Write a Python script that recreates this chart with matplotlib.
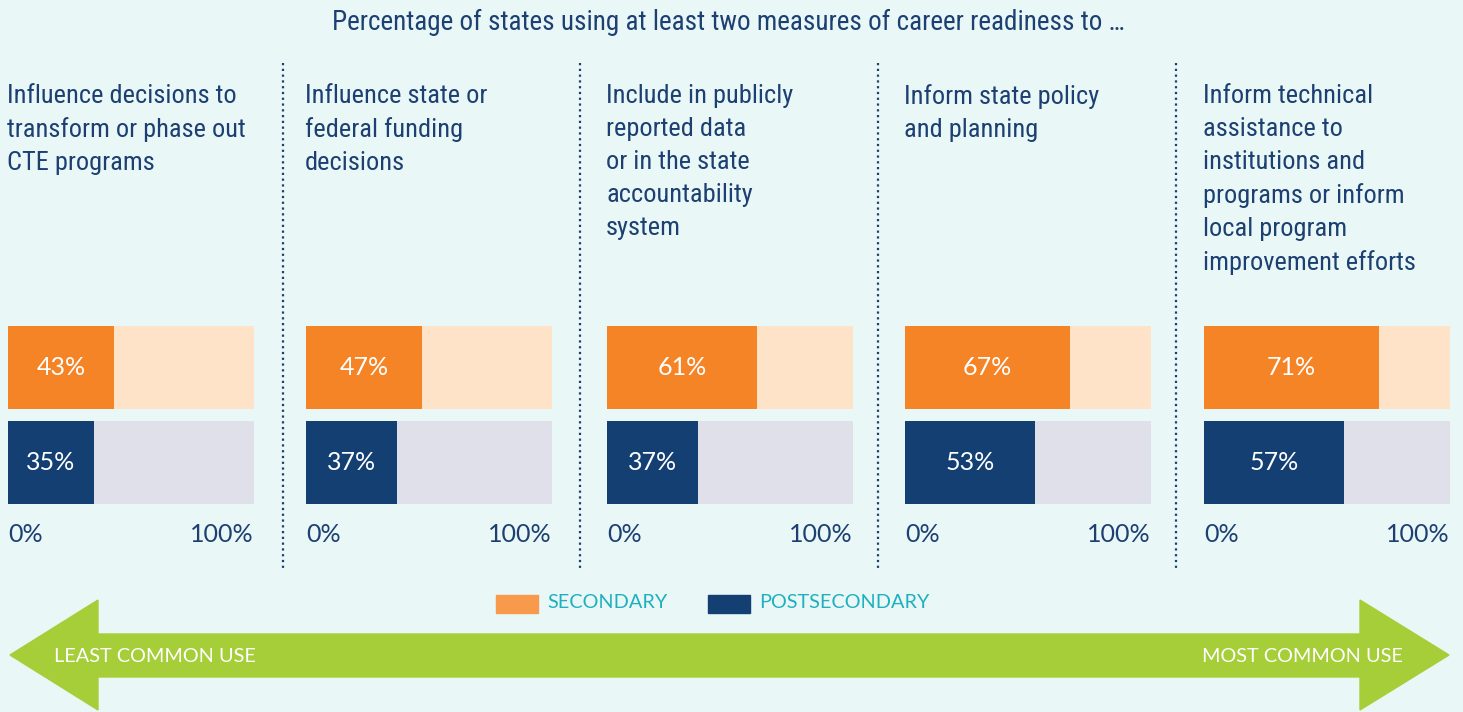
"""
Career readiness measures: share of states, secondary vs postsecondary.
"""
import matplotlib.pyplot as plt
from matplotlib import font_manager
from matplotlib.patches import Polygon, Rectangle
from matplotlib.lines import Line2D

# data
uses = [
    "Influence decisions to\ntransform or phase out\nCTE programs",
    "Influence state or\nfederal funding\ndecisions",
    "Include in publicly\nreported data\nor in the state\naccountability\nsystem",
    "Inform state policy\nand planning",
    "Inform technical\nassistance to\ninstitutions and\nprograms or inform\nlocal program\nimprovement efforts",
]
secondary = [43, 47, 61, 67, 71]
postsecondary = [35, 37, 37, 53, 57]
series_names = ["SECONDARY", "POSTSECONDARY"]
title = "Percentage of states using at least two measures of career readiness to \u2026"

# colours
BG = "#eaf7f7"
ORANGE = "#f58426"
ORANGE_LIGHT = "#ffe3c8"
NAVY = "#143f73"
GREY_LIGHT = "#e0e0ea"
TEXT_NAVY = "#1c4071"
TEAL = "#1fb0bf"
GREEN = "#a6ce39"

W, H = 1463, 712
fig = plt.figure(figsize=(W / 100, H / 100), dpi=100, facecolor=BG)

# pick a narrow face for the headings if one is around
fonts = font_manager.fontManager.ttflist
installed = {f.name for f in fonts}
head_font = dict(family="DejaVu Sans", fontsize=14)
for cand in ["Liberation Sans Narrow", "Roboto Condensed", "Open Sans Condensed",
             "Noto Sans Condensed"]:
    if cand in installed:
        head_font = dict(family=cand, fontsize=19)
        break
else:
    if any(f.name == "DejaVu Sans" and "Condensed" in f.fname for f in fonts):
        head_font = dict(family="DejaVu Sans", fontstretch="condensed", fontsize=18)
    elif any(f.name == "Roboto" and f.stretch == "condensed" for f in fonts):
        head_font = dict(family="Roboto", fontstretch="condensed", fontsize=19)


def fx(x):
    return x / W


def fy(y):
    return 1 - y / H


title_font = dict(head_font, fontsize=head_font["fontsize"] + 0.5)
fig.text(fx(728), fy(22), title, ha="center", va="center", color=TEXT_NAVY,
         **title_font)

panel_left = [8, 306, 607, 905, 1204]
panel_w = 246
bar_top, bar_bot = 326, 504

for i, label in enumerate(uses):
    x0 = panel_left[i]
    ax = fig.add_axes([fx(x0), fy(bar_bot), fx(panel_w), (bar_bot - bar_top) / H])
    ax.set_xlim(0, 100)
    ax.set_ylim(1.4415, -0.4415)
    ax.axis("off")
    h = 0.883
    ax.barh([0, 1], [100, 100], height=h, color=[ORANGE_LIGHT, GREY_LIGHT])
    vals = [secondary[i], postsecondary[i]]
    ax.barh([0, 1], vals, height=h, color=[ORANGE, NAVY])
    for row, v in enumerate(vals):
        ax.text(v / 2, row, f"{v}%", ha="center", va="center",
                family="Lato", fontsize=18, color="white")

    fig.text(fx(x0 - 1), fy(84), label, ha="left", va="top", color=TEXT_NAVY,
             linespacing=1.47, **head_font)
    fig.text(fx(x0), fy(534), "0%", ha="left", va="center",
             family="Lato", fontsize=18, color=TEXT_NAVY)
    fig.text(fx(x0 + panel_w), fy(534), "100%", ha="right", va="center",
             family="Lato", fontsize=18, color=TEXT_NAVY)

# dotted dividers
for xd in [283, 580, 878, 1176]:
    fig.add_artist(Line2D([fx(xd), fx(xd)], [fy(63), fy(568)], color=TEXT_NAVY,
                          linestyle=(0, (1, 1.6)), linewidth=1.6))

# legend
leg_colors = ["#f79a4b", NAVY]
for name, col, lx in zip(series_names, leg_colors, [496, 708]):
    fig.add_artist(Rectangle((fx(lx), fy(613)), fx(42), 18 / H, color=col,
                             transform=fig.transFigure))
    fig.text(fx(lx + 51), fy(603), name, ha="left", va="center",
             family="Lato", fontsize=14.3, color=TEAL)

# arrow
arrow_pts = [(10, 655), (98, 600), (98, 634), (1360, 634), (1360, 600),
             (1449, 655), (1360, 710), (1360, 677), (98, 677), (98, 710)]
fig.add_artist(Polygon([(fx(x), fy(y)) for x, y in arrow_pts], closed=True,
                       color=GREEN, transform=fig.transFigure))
fig.text(fx(54), fy(656), "LEAST COMMON USE", ha="left", va="center",
         family="Lato", fontsize=14.3, color="white")
fig.text(fx(1403), fy(656), "MOST COMMON USE", ha="right", va="center",
         family="Lato", fontsize=14.3, color="white")

fig.savefig("out.png", dpi=100, facecolor=BG)
